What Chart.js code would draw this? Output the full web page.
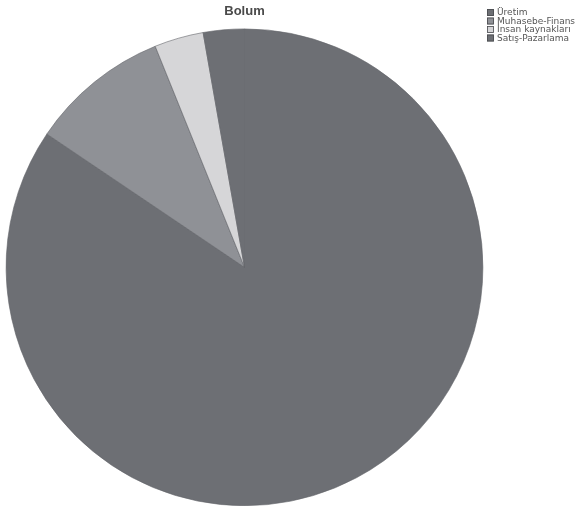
<!DOCTYPE html>
<html>
<head>
<meta charset="utf-8">
<title>Bolum</title>
<script src="https://cdn.jsdelivr.net/npm/chart.js@4/dist/chart.umd.min.js"></script>
<style>
  html, body { margin: 0; padding: 0; background: #fff; }
  #wrap { width: 588px; height: 506px; position: relative; }
</style>
</head>
<body>
<div id="wrap"><canvas id="pie"></canvas></div>
<script>
const labels = ['Üretim', 'Muhasebe-Finans', 'İnsan kaynakları', 'Satış-Pazarlama'];
const counts = [152, 17, 6, 5];
const fills = ['#6d6f74', '#8f9196', '#d6d6d8', '#6d6f74'];

// small stacked legend in the top-right corner, outside the pie's box
const cornerLegend = {
  id: 'cornerLegend',
  afterDraw(chart) {
    const ctx = chart.ctx;
    const ds = chart.data.datasets[0];
    const x = 487;
    let y = 9;
    ctx.save();
    ctx.font = '9px "DejaVu Sans", sans-serif';
    ctx.textBaseline = 'middle';
    chart.data.labels.forEach((lab, i) => {
      ctx.fillStyle = ds.backgroundColor[i];
      ctx.fillRect(x, y, 7, 7);
      ctx.strokeStyle = '#4a4b4f';
      ctx.lineWidth = 0.8;
      ctx.strokeRect(x + 0.5, y + 0.5, 6, 6);
      ctx.fillStyle = '#555';
      ctx.fillText(lab, x + 10, y + 4);
      y += 8.5;
    });
    ctx.restore();
  },
};

new Chart(document.getElementById('pie'), {
  type: 'pie',
  data: {
    labels: labels,
    datasets: [
      {
        data: counts,
        backgroundColor: fills,
        borderColor: '#636469',
        borderWidth: 0.6,
      },
    ],
  },
  options: {
    responsive: true,
    maintainAspectRatio: false,
    animation: false,
    layout: { padding: { top: 0, left: 0, right: 99, bottom: 0 } },
    plugins: {
      title: {
        display: true,
        text: 'Bolum',
        color: '#4a4a4a',
        font: { family: 'Liberation Sans, Arial', size: 13, weight: 'bold' },
        padding: { top: 4, bottom: 9 },
      },
      legend: { display: false },
      tooltip: { enabled: false },
    },
  },
  plugins: [cornerLegend],
});
</script>
</body>
</html>
